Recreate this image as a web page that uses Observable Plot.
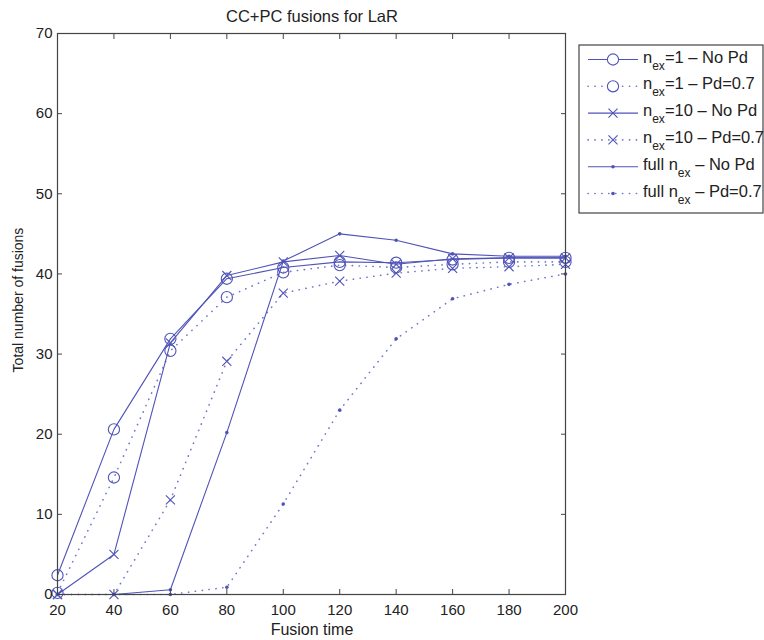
<!DOCTYPE html>
<html>
<head>
<meta charset="utf-8">
<script src="https://cdn.jsdelivr.net/npm/d3@7"></script>
<script src="https://cdn.jsdelivr.net/npm/@observablehq/plot@0.6"></script>
<style>
  html, body { margin: 0; padding: 0; background: #fff; }
  #chart { width: 764px; height: 640px; }
  svg { font-family: "Liberation Sans", Arial, sans-serif; }
</style>
</head>
<body>
<div id="chart"></div>
<script>
const fusionTime = [20, 40, 60, 80, 100, 120, 140, 160, 180, 200];
const nex1NoPd   = [2.4, 20.6, 31.9, 39.4, 40.8, 41.5, 41.4, 41.8, 42.0, 42.0];
const nex1Pd     = [0.2, 14.6, 30.4, 37.1, 40.2, 41.1, 40.8, 41.2, 41.5, 41.5];
const nex10NoPd  = [0.0, 5.0, 31.4, 39.8, 41.5, 42.3, 41.2, 41.9, 42.0, 42.0];
const nex10Pd    = [0.0, 0.0, 11.8, 29.1, 37.6, 39.1, 40.1, 40.7, 40.9, 41.2];
const fullNoPd   = [0.0, 0.0, 0.6, 20.2, 41.6, 45.0, 44.2, 42.5, 42.2, 42.2];
const fullPd     = [0.0, 0.0, 0.0, 0.9, 11.3, 23.0, 31.9, 36.9, 38.7, 40.0];

const xTicks = [20, 40, 60, 80, 100, 120, 140, 160, 180, 200];
const yTicks = [0, 10, 20, 30, 40, 50, 60, 70];

const title = "CC+PC fusions for LaR";
const xLabel = "Fusion time";
const yLabel = "Total number of fusions";

const seriesNames = [
  ["n", "ex", "=1 \u2013 No Pd"],
  ["n", "ex", "=1 \u2013 Pd=0.7"],
  ["n", "ex", "=10 \u2013 No Pd"],
  ["n", "ex", "=10 \u2013 Pd=0.7"],
  ["full n", "ex", " \u2013 No Pd"],
  ["full n", "ex", " \u2013 Pd=0.7"]
];
const seriesValues = [nex1NoPd, nex1Pd, nex10NoPd, nex10Pd, fullNoPd, fullPd];
const seriesMarker = ["circle", "circle", "times", "times", "dot", "dot"];
const seriesDotted = [false, true, false, true, false, true];

const color = "#4f53b8";
const dotColor = "#7478ca";
const dash = "0.3,6.6";

const series = seriesValues.map((vals, i) => ({
  idx: i,
  data: fusionTime.map((t, j) => ({t, v: vals[j]}))
}));

const marks = [];
for (const s of series) {
  const dotted = seriesDotted[s.idx];
  marks.push(Plot.line(s.data, {
    x: "t", y: "v", stroke: dotted ? dotColor : color, strokeWidth: dotted ? 1.6 : 1.1,
    strokeDasharray: dotted ? dash : null, strokeLinecap: dotted ? "round" : "butt"
  }));
  const m = seriesMarker[s.idx];
  if (m === "circle") {
    marks.push(Plot.dot(s.data, {x: "t", y: "v", symbol: "circle", r: 5.6, stroke: color, strokeWidth: 1.1, fill: "none"}));
  } else if (m === "times") {
    marks.push(Plot.dot(s.data, {x: "t", y: "v", symbol: "times", r: 4.2, stroke: color, strokeWidth: 1.1, fill: "none"}));
  } else {
    marks.push(Plot.dot(s.data, {x: "t", y: "v", symbol: "circle", r: 1.8, fill: color, stroke: "none"}));
  }
}

const plot = Plot.plot({
  width: 764,
  height: 640,
  marginLeft: 57,
  marginRight: 199,
  marginTop: 33,
  marginBottom: 46,
  style: {fontFamily: "Liberation Sans, Arial, sans-serif", fontSize: "15px", color: "#222", background: "#fff"},
  x: {domain: [20, 200], ticks: xTicks},
  y: {domain: [0, 70], ticks: yTicks},
  marks: [
    ...marks,
    Plot.axisX(xTicks, {anchor: "bottom", tickSize: -5, tickPadding: 15, stroke: "#444", label: null, fontSize: 15, fill: "#222"}),
    Plot.axisX(xTicks, {anchor: "top", tickSize: -5, stroke: "#444", tickFormat: () => "", label: null}),
    Plot.axisY(yTicks, {anchor: "left", tickSize: -5, tickPadding: 10, stroke: "#444", label: null, fontSize: 15, fill: "#222"}),
    Plot.axisY(yTicks, {anchor: "right", tickSize: -5, stroke: "#444", tickFormat: () => "", label: null}),
    Plot.frame({stroke: "#444", strokeWidth: 1.2})
  ]
});

document.getElementById("chart").appendChild(plot);

const svg = d3.select(plot);

// Title and axis labels
svg.append("text").attr("x", 312).attr("y", 22).attr("text-anchor", "middle")
  .attr("font-size", 16.5).attr("fill", "#222").text(title);
svg.append("text").attr("x", 312).attr("y", 635).attr("text-anchor", "middle")
  .attr("font-size", 16).attr("fill", "#222").text(xLabel);
svg.append("text").attr("transform", "translate(23,300) rotate(-90)").attr("text-anchor", "middle")
  .attr("font-size", 14).attr("fill", "#222").text(yLabel);

// Legend (MATLAB style box)
const lg = svg.append("g").attr("class", "legend");
const lx = 579, ly = 45, lw = 184, lh = 168;
lg.append("rect").attr("x", lx).attr("y", ly).attr("width", lw).attr("height", lh)
  .attr("fill", "#fff").attr("stroke", "#444").attr("stroke-width", 1.2);
seriesNames.forEach((name, i) => {
  const cy = ly + 14.5 + i * 26.8;
  const dotted = seriesDotted[i];
  lg.append("line").attr("x1", lx + 9).attr("x2", lx + 59).attr("y1", cy).attr("y2", cy)
    .attr("stroke", dotted ? dotColor : color).attr("stroke-width", dotted ? 1.6 : 1.1)
    .attr("stroke-dasharray", dotted ? dash : null).attr("stroke-linecap", dotted ? "round" : "butt");
  const mx = lx + 34;
  const m = seriesMarker[i];
  if (m === "circle") {
    lg.append("circle").attr("cx", mx).attr("cy", cy).attr("r", 5.6).attr("fill", "#fff").attr("stroke", color).attr("stroke-width", 1.1);
  } else if (m === "times") {
    lg.append("path").attr("d", d3.symbol(d3.symbolTimes, 4.2 * 4.2 * Math.PI)()).attr("transform", `translate(${mx},${cy})`)
      .attr("fill", "none").attr("stroke", color).attr("stroke-width", 1.1);
  } else {
    lg.append("circle").attr("cx", mx).attr("cy", cy).attr("r", 1.8).attr("fill", color);
  }
  const t = lg.append("text").attr("x", lx + 64).attr("y", cy + 3).attr("text-anchor", "start")
    .attr("font-size", 16.5).attr("fill", "#222");
  t.append("tspan").text(name[0]);
  t.append("tspan").attr("dy", 7).attr("font-size", 12).text(name[1]);
  t.append("tspan").attr("dy", -7).text(name[2]);
});
</script>
</body>
</html>
